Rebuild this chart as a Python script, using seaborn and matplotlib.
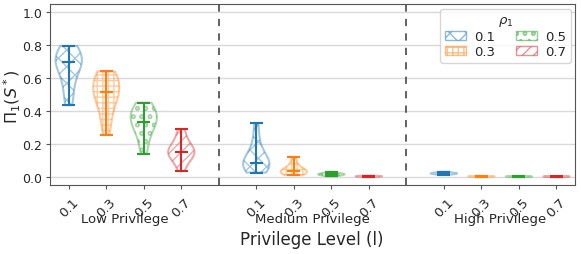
import matplotlib
matplotlib.use("Agg")
import matplotlib.pyplot as plt
import matplotlib.patches as mpatches
import numpy as np
import pandas as pd
import seaborn as sns

# rho_1 levels, colours and hatches
RHO = ["0.1", "0.3", "0.5", "0.7"]
COLORS = ["#1f77b4", "#ff7f0e", "#2ca02c", "#d62728"]
HATCHES = ["xx", "+++", "oo", "///"]
GROUPS = ["Low Privilege", "Medium Privilege", "High Privilege"]

# estimated samples of Pi_1(S*) per privilege level and rho_1
low_01 = [0.435, 0.47, 0.52, 0.57, 0.62, 0.65, 0.67, 0.69, 0.70, 0.71, 0.72, 0.73, 0.74, 0.75, 0.77, 0.795]
low_03 = [0.255, 0.30, 0.36, 0.41, 0.45, 0.48, 0.50, 0.51, 0.52, 0.54, 0.56, 0.58, 0.60, 0.61, 0.62, 0.64]
low_05 = [0.14, 0.19, 0.23, 0.27, 0.30, 0.32, 0.33, 0.33, 0.34, 0.37, 0.38, 0.39, 0.40, 0.42, 0.43, 0.45]
low_07 = [0.035, 0.07, 0.10, 0.12, 0.13, 0.14, 0.145, 0.15, 0.15, 0.16, 0.17, 0.18, 0.20, 0.23, 0.26, 0.29]
med_01 = [0.025, 0.04, 0.05, 0.055, 0.06, 0.065, 0.07, 0.08, 0.09, 0.10, 0.11, 0.13, 0.16, 0.20, 0.26, 0.325]
med_03 = [0.01, 0.015, 0.02, 0.022, 0.025, 0.028, 0.03, 0.03, 0.033, 0.037, 0.042, 0.05, 0.06, 0.075, 0.095, 0.12]
med_05 = [0.003, 0.006, 0.009, 0.011, 0.013, 0.015, 0.015, 0.016, 0.018, 0.02, 0.024, 0.03]
med_07 = [0.0, 0.001, 0.002, 0.003, 0.004, 0.005]
high_01 = [0.012, 0.016, 0.018, 0.02, 0.02, 0.022, 0.025, 0.03]
high_03 = [0.0, 0.001, 0.002, 0.003, 0.004]
high_05 = [0.0, 0.0005, 0.001, 0.0015, 0.002]
high_07 = [0.0, 0.0005, 0.001, 0.0015, 0.002]

SERIES = [
    [low_01, low_03, low_05, low_07],
    [med_01, med_03, med_05, med_07],
    [high_01, high_03, high_05, high_07],
]

WIDTH = 0.7

sns.set_style("ticks")
plt.rcParams["font.family"] = ["DejaVu Sans"]
plt.rcParams["hatch.linewidth"] = 1.0

fig = plt.figure(figsize=(5.81, 2.55), dpi=100)
ax = fig.add_axes([0.086, 0.271, 0.904, 0.709])

ticks, ticklabels = [], []
for g, group in enumerate(SERIES):
    for k, vals in enumerate(group):
        pos = g * 5 + k
        df = pd.DataFrame({"x": [pos] * len(vals), "y": vals})
        sns.violinplot(data=df, x="x", y="y", native_scale=True, cut=0,
                       inner=None, width=WIDTH, density_norm="width",
                       bw_adjust=1.2, color=COLORS[k], linewidth=1.5, ax=ax)
        body = ax.collections[-1]
        body.set_facecolor("none")
        body.set_edgecolor(matplotlib.colors.to_rgba(COLORS[k], 0.4))
        body.set_linewidth(1.5)
        body.set_hatch(HATCHES[k])
        # extrema + median bars
        v = np.asarray(vals)
        half = WIDTH * 0.25
        ax.vlines(pos, v.min(), v.max(), color=COLORS[k], lw=1.5)
        ax.hlines([v.min(), v.max(), np.median(v)], pos - half, pos + half,
                  color=COLORS[k], lw=1.5)
        ticks.append(pos)
        ticklabels.append(RHO[k])

for sep in [4, 9]:
    ax.axvline(sep, color="#555555", ls=(0, (4, 4)), lw=1.3)

ax.set_xlim(-0.5, 13.5)
ax.set_ylim(-0.05, 1.05)
ax.set_xticks(ticks)
ax.set_xticklabels(ticklabels, rotation=45, ha="center", fontsize=9.5)
ax.set_yticks([0, 0.2, 0.4, 0.6, 0.8, 1.0])
ax.set_yticklabels(["0.0", "0.2", "0.4", "0.6", "0.8", "1.0"], fontsize=9)
ax.tick_params(length=3, color="#555555", pad=2.5)
ax.tick_params(axis="x", pad=4)
ax.grid(axis="y", color="#d9d9d9", lw=1.0)
ax.set_axisbelow(True)
for s in ax.spines.values():
    s.set_color("#555555")
ax.set_xlabel("")
ax.set_ylabel("")
fig.text(0.003, 0.62, r"$\Pi_1(S^*)$", rotation=90, ha="left", va="center",
         fontsize=11.5)

for g, name in enumerate(GROUPS):
    ax.text(g * 5 + 1.5, -0.255, name, ha="center", va="center", fontsize=9.5,
            transform=ax.transData)
fig.text(0.537, 0.06, "Privilege Level (l)", ha="center", va="center", fontsize=12)

handles = [mpatches.Patch(facecolor="white",
                          edgecolor=matplotlib.colors.to_rgba(c, 0.5),
                          hatch=h, label=r) for c, h, r in zip(COLORS, HATCHES, RHO)]
ax.legend(handles=handles, title=r"$\rho_1$", ncol=2, loc="upper right",
          fontsize=9.5, title_fontsize=9.5, handlelength=1.6, columnspacing=1.6,
          labelspacing=0.15, borderpad=0.35, handletextpad=0.6,
          borderaxespad=0.35)

fig.savefig("out.png", dpi=100)
